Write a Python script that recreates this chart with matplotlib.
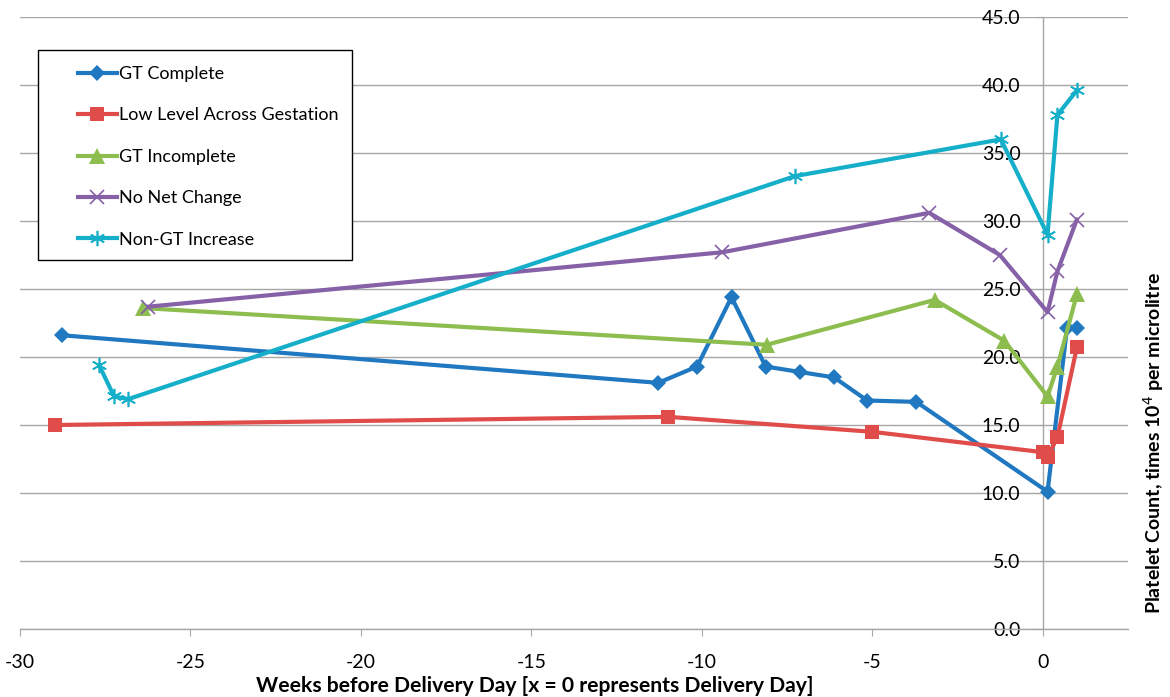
import matplotlib.pyplot as plt
from matplotlib.patches import Rectangle
import numpy as np

plt.rcParams['font.family'] = ['Lato', 'DejaVu Sans']
plt.rcParams['axes.unicode_minus'] = False

# weeks before delivery (day offsets after delivery are in 1/7 steps)
gt_complete_x = [-28.78, -11.28, -10.14, -9.13, -8.13, -7.13, -6.12, -5.15, -3.71, 0.14, 0.71, 1.0]
gt_complete_y = [21.6, 18.1, 19.3, 24.4, 19.3, 18.9, 18.5, 16.8, 16.7, 10.1, 22.1, 22.1]

low_level_x = [-28.96, -10.99, -5.0, 0.0, 0.14, 0.43, 1.0]
low_level_y = [15.0, 15.6, 14.5, 13.0, 12.65, 14.1, 20.7]

gt_incomplete_x = [-26.4, -8.1, -3.17, -1.13, 0.14, 0.43, 1.0]
gt_incomplete_y = [23.6, 20.9, 24.2, 21.2, 17.1, 19.3, 24.6]

no_net_x = [-26.24, -9.4, -3.33, -1.26, 0.14, 0.43, 1.0]
no_net_y = [23.7, 27.7, 30.6, 27.5, 23.3, 26.3, 30.1]

non_gt_x = [-27.68, -27.24, -26.83, -7.27, -1.23, 0.14, 0.43, 1.0]
non_gt_y = [19.4, 17.1, 16.9, 33.3, 36.0, 29.0, 37.8, 39.6]

fig = plt.figure(figsize=(11.7, 6.97), dpi=100)
ax = fig.add_axes([20 / 1170, 1 - 629 / 697, 1108 / 1170, 612 / 697])

lw = 3.0
ax.plot(gt_complete_x, gt_complete_y, color='#2079C0', lw=lw, marker='D', ms=8.5, mew=0,
        label='GT Complete', zorder=3)
ax.plot(low_level_x, low_level_y, color='#DF4C4A', lw=lw, marker='s', ms=10.5, mew=0,
        label='Low Level Across Gestation', zorder=3)
ax.plot(gt_incomplete_x, gt_incomplete_y, color='#8CBD4E', lw=lw, marker='^', ms=11, mew=0,
        label='GT Incomplete', zorder=3)
ax.plot(no_net_x, no_net_y, color='#8661A8', lw=lw, marker='x', ms=10, mew=1.2,
        label='No Net Change', zorder=3)
ax.plot(non_gt_x, non_gt_y, color='#15AFC9', lw=lw, marker=(6, 2, 0), ms=11, mew=1.2,
        label='Non-GT Increase', zorder=3)

ax.set_xlim(-30, 2.5)
ax.set_ylim(0, 45)
ax.set_xticks(np.arange(-30, 1, 5))
ax.set_yticks(np.arange(0, 46, 5))
ax.set_yticklabels([f"{v:.1f}" for v in np.arange(0, 46, 5)])

ax.spines['top'].set_visible(False)
ax.spines['right'].set_visible(False)
ax.spines['left'].set_position(('data', 0))
for s in ('left', 'bottom'):
    ax.spines[s].set_color('#A6A6A6')
    ax.spines[s].set_linewidth(1.0)

ax.grid(axis='y', color='#A6A6A6', lw=1.0)
ax.set_axisbelow(True)
ax.tick_params(axis='both', colors='#A6A6A6', labelcolor='black', labelsize=14, length=5)
ax.tick_params(axis='x', pad=13)
ax.tick_params(axis='y', pad=11)

fig.text(0.457, 0.016, 'Weeks before Delivery Day [x = 0 represents Delivery Day]',
         fontsize=15.2, fontweight='bold', ha='center', va='center')
fig.text(0.986, 0.365, 'Platelet Count, times 10$^4$ per microlitre', rotation=90,
         fontsize=14, fontweight='bold', ha='center', va='center')

# legend box drawn separately so the inset matches
ax.add_patch(Rectangle((0.01625, 0.603), 0.2834, 0.343, transform=ax.transAxes,
                       facecolor='white', edgecolor='black', lw=1.0, zorder=4))
leg = ax.legend(loc='upper left', bbox_to_anchor=(0.0523, 0.920), fontsize=13,
                frameon=False, borderpad=0, labelspacing=1.41, handlelength=2.15,
                handletextpad=0.15, borderaxespad=0)
leg.set_zorder(5)

fig.savefig('out.png', dpi=100)
